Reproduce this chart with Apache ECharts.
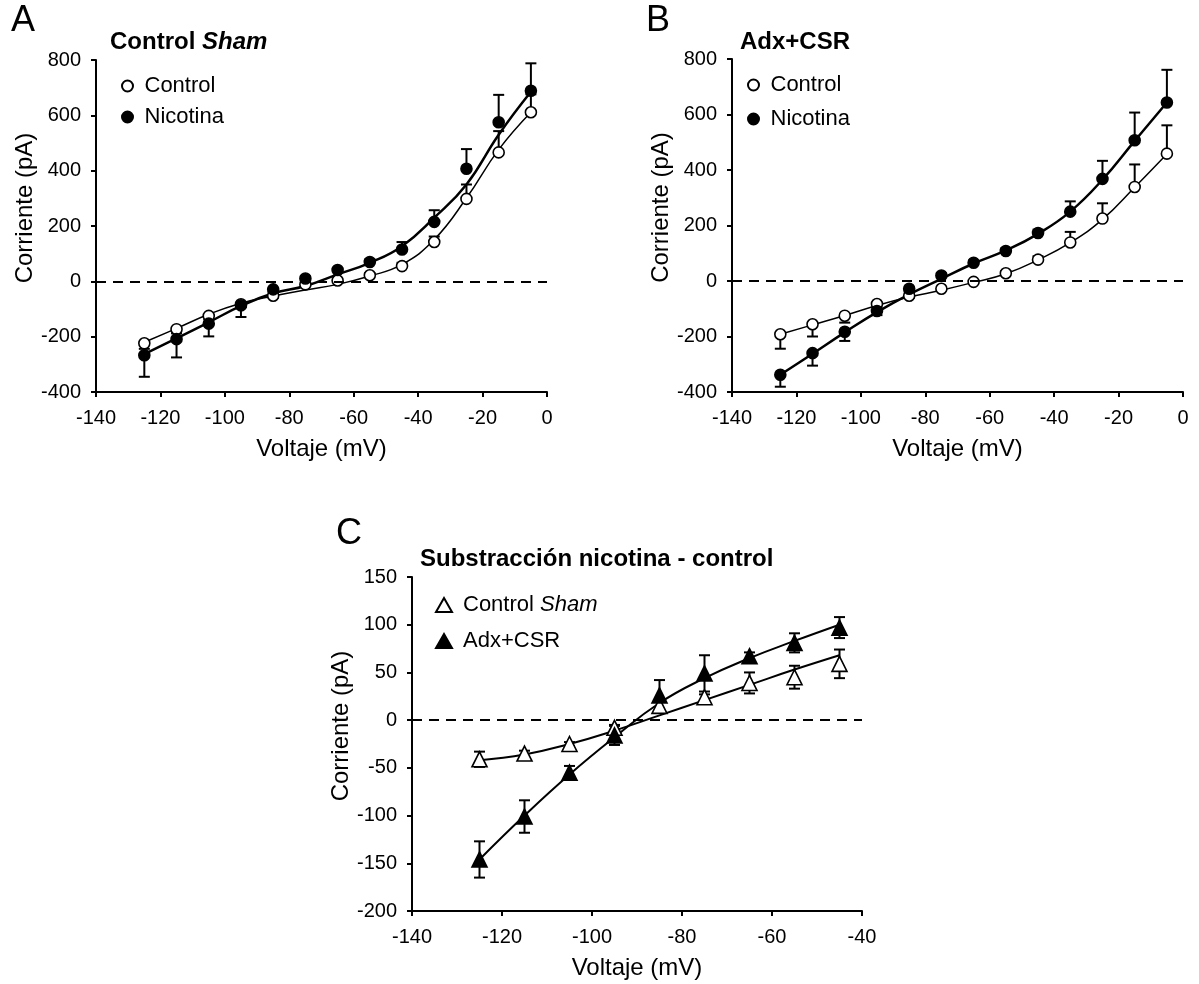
<!DOCTYPE html>
<html>
<head>
<meta charset="utf-8">
<script src="https://cdn.jsdelivr.net/npm/echarts@6/dist/echarts.min.js"></script>
<style>
html,body{margin:0;padding:0;background:#fff;}
#chart{width:1199px;height:984px;}
</style>
</head>
<body>
<div id="chart"></div>
<script>
// ---- data ----
const voltsAB = [-125,-115,-105,-95,-85,-75,-65,-55,-45,-35,-25,-15,-5];
const voltsC = [-125,-115,-105,-95,-85,-75,-65,-55,-45];
const xTicksAB = [-140,-120,-100,-80,-60,-40,-20,0];
const xTicksC = [-140,-120,-100,-80,-60,-40];
const yTicksAB = [-400,-200,0,200,400,600,800];
const yTicksC = [-200,-150,-100,-50,0,50,100,150];

// Panel A: Control Sham
const aControl    = [-224,-173,-125,-83,-52,-11,3,22,55,142,298,466,611];
const aControlErr = [20,15,12,10,8,6,5,8,12,20,52,77,65];
const aNic        = [-267,-209,-153,-87,-29,10,41,70,115,215,407,575,689];
const aNicErr     = [78,66,46,42,10,8,8,10,27,42,71,99,99];
const aControlFit = [-220,-170,-119,-79,-53,-31,-11,19,61,151,301,476,611];
const aNicFit     = [-263,-206,-148,-89,-43,-17,25,67,127,230,350,530,685];

// Panel B: Adx+CSR
const bControl    = [-192,-156,-125,-83,-53,-28,-3,28,77,139,225,339,459];
const bControlErr = [52,44,25,12,8,6,6,8,12,38,55,81,102];
const bNic        = [-338,-260,-183,-108,-28,20,66,108,173,250,368,507,643];
const bNicErr     = [43,45,33,15,10,8,8,10,12,37,65,100,118];
const bControlFit = [-192,-158,-124,-88,-58,-33,-5,26,76,138,222,338,458];
const bNicFit     = [-338,-262,-185,-112,-48,8,63,110,170,250,365,505,643];

// Panel C: subtraction nicotina - control
const cSham     = [-41,-35,-25,-8,15,24,39,45,59];
const cShamErr  = [8,3,2,3,4,3,11,12,15];
const cAdx      = [-146,-101,-55,-16,26,49,67,81,97];
const cAdxErr   = [19,17,7,10,16,19,4,10,11];
const cShamFit  = [-42,-36,-25,-11,5,21,37,53,68];
const cAdxFit   = [-146,-100,-57,-18,18,44,65,83,100];

// ---- helpers ----
const FONT = '"Liberation Sans", Arial, sans-serif';
const pairs = (xs, ys) => xs.map((x, i) => [x, ys[i]]);
// one-sided error bars (away from zero)
const oneSided = (xs, ys, es) => xs.map((x, i) => ys[i] < 0 ? [x, ys[i], es[i], 0] : [x, ys[i], 0, es[i]]);
const twoSided = (xs, ys, es) => xs.map((x, i) => [x, ys[i], es[i], es[i]]);

function errRender(params, api) {
  const x = api.value(0), y = api.value(1), lo = api.value(2), hi = api.value(3);
  const p0 = api.coord([x, y - lo]);
  const p1 = api.coord([x, y + hi]);
  const w = 5.5;
  const st = {stroke: '#000', lineWidth: 2};
  const ch = [{type: 'line', shape: {x1: p0[0], y1: p0[1], x2: p1[0], y2: p1[1]}, style: st}];
  if (lo > 0) ch.push({type: 'line', shape: {x1: p0[0]-w, y1: p0[1], x2: p0[0]+w, y2: p0[1]}, style: st});
  if (hi > 0) ch.push({type: 'line', shape: {x1: p1[0]-w, y1: p1[1], x2: p1[0]+w, y2: p1[1]}, style: st});
  return {type: 'group', children: ch};
}

function xAxisDef(gi, min, max) {
  return {
    type: 'value', gridIndex: gi, min: min, max: max, interval: 20,
    name: 'Voltaje (mV)', nameLocation: 'middle', nameGap: 45,
    nameTextStyle: {fontFamily: FONT, fontSize: 24, color: '#000'},
    axisLine: {onZero: false, lineStyle: {color: '#000', width: 2}},
    axisTick: {show: true, length: 5, lineStyle: {color: '#000', width: 2}},
    axisLabel: {fontFamily: FONT, fontSize: 20, color: '#000', margin: 16},
    splitLine: {show: false}
  };
}
function yAxisDef(gi, min, max, interval) {
  return {
    type: 'value', gridIndex: gi, min: min, max: max, interval: interval,
    name: 'Corriente (pA)', nameLocation: 'middle', nameGap: 59, nameRotate: 90,
    nameTextStyle: {fontFamily: FONT, fontSize: 24, color: '#000', padding: [0, 0, 0, 36]},
    axisLine: {show: true, onZero: false, lineStyle: {color: '#000', width: 2}},
    axisTick: {show: true, length: 5, lineStyle: {color: '#000', width: 2}},
    axisLabel: {fontFamily: FONT, fontSize: 20, color: '#000', margin: 15},
    splitLine: {show: false}
  };
}
const zeroLine = {
  silent: true, symbol: ['none', 'none'], label: {show: false},
  lineStyle: {color: '#000', type: [10, 7], width: 2},
  emphasis: {disabled: true},
  data: [{yAxis: 0}]
};
function fitSeries(gi, xs, ys, width, withZero) {
  const s = {
    type: 'line', xAxisIndex: gi, yAxisIndex: gi, data: pairs(xs, ys),
    smooth: 0.45, symbol: 'none', z: 2,
    lineStyle: {color: '#000', width: width}, silent: true
  };
  if (withZero) s.markLine = zeroLine;
  return s;
}
function errSeries(gi, data) {
  return {type: 'custom', xAxisIndex: gi, yAxisIndex: gi, renderItem: errRender,
    data: data, encode: {x: 0, y: 1}, z: 3, silent: true};
}
function markSeries(gi, name, xs, ys, symbol, size, filled, z) {
  return {type: 'scatter', name: name, xAxisIndex: gi, yAxisIndex: gi, data: pairs(xs, ys),
    symbol: symbol, symbolSize: size, z: z,
    itemStyle: {color: filled ? '#000' : '#fff', borderColor: '#000', borderWidth: 1.6, opacity: 1}};
}
function legendDef(left, top, names, gap, iconW, iconH, textPad) {
  return {
    left: left, top: top, orient: 'vertical', data: names, itemGap: gap,
    itemWidth: iconW, itemHeight: iconH, selectedMode: false,
    formatter: n => n === 'Control Sham' ? 'Control {i|Sham}' : n,
    textStyle: {fontFamily: FONT, fontSize: 22, color: '#000', lineHeight: 24, padding: [0, 0, 0, textPad],
      rich: {i: {fontFamily: FONT, fontSize: 22, fontStyle: 'italic', color: '#000'}}}
  };
}
function titleDef(text, left, top, size, bold) {
  return {text: text, left: left, top: top, padding: 0,
    textStyle: {fontFamily: FONT, fontSize: size, fontWeight: bold ? 'bold' : 'normal', color: '#000',
      rich: {i: {fontFamily: FONT, fontSize: size, fontWeight: 'bold', fontStyle: 'italic', color: '#000'}}}};
}

const chart = echarts.init(document.getElementById('chart'));
chart.setOption({
  animation: false,
  backgroundColor: '#fff',
  title: [
    titleDef('A', 11, 3, 36, false),
    titleDef('B', 646, 3, 36, false),
    titleDef('C', 336, 516, 36, false),
    titleDef('Control {i|Sham}', 110, 30, 24, true),
    titleDef('Adx+CSR', 740, 30, 24, true),
    titleDef('Substracción nicotina - control', 420, 547, 24, true)
  ],
  legend: [
    legendDef(116, 69, ['Control', 'Nicotina'], 7, 24, 11, 0),
    legendDef(742, 68, ['Control', 'Nicotina'], 10, 24, 11, 0),
    legendDef(430, 588, ['Control Sham', 'Adx+CSR'], 12, 16, 14, 6)
  ],
  grid: [
    {left: 96, top: 60, width: 451, height: 332},
    {left: 732, top: 59, width: 451, height: 333},
    {left: 412, top: 577, width: 450, height: 334}
  ],
  xAxis: [xAxisDef(0, -140, 0), xAxisDef(1, -140, 0), xAxisDef(2, -140, -40)],
  yAxis: [yAxisDef(0, -400, 800, 200), yAxisDef(1, -400, 800, 200), yAxisDef(2, -200, 150, 50)],
  series: [
    // Panel A
    fitSeries(0, voltsAB, aControlFit, 1.5, true),
    fitSeries(0, voltsAB, aNicFit, 2.5, false),
    errSeries(0, oneSided(voltsAB, aControl, aControlErr)),
    errSeries(0, oneSided(voltsAB, aNic, aNicErr)),
    markSeries(0, 'Control', voltsAB, aControl, 'circle', 11, false, 4),
    markSeries(0, 'Nicotina', voltsAB, aNic, 'circle', 11, true, 5),
    // Panel B
    fitSeries(1, voltsAB, bControlFit, 1.5, true),
    fitSeries(1, voltsAB, bNicFit, 2.5, false),
    errSeries(1, oneSided(voltsAB, bControl, bControlErr)),
    errSeries(1, oneSided(voltsAB, bNic, bNicErr)),
    markSeries(1, 'Control', voltsAB, bControl, 'circle', 11, false, 4),
    markSeries(1, 'Nicotina', voltsAB, bNic, 'circle', 11, true, 5),
    // Panel C
    fitSeries(2, voltsC, cShamFit, 2, true),
    fitSeries(2, voltsC, cAdxFit, 2, false),
    errSeries(2, twoSided(voltsC, cSham, cShamErr)),
    errSeries(2, twoSided(voltsC, cAdx, cAdxErr)),
    markSeries(2, 'Control Sham', voltsC, cSham, 'triangle', 15, false, 4),
    markSeries(2, 'Adx+CSR', voltsC, cAdx, 'triangle', 15, true, 5)
  ]
});
</script>
</body>
</html>
